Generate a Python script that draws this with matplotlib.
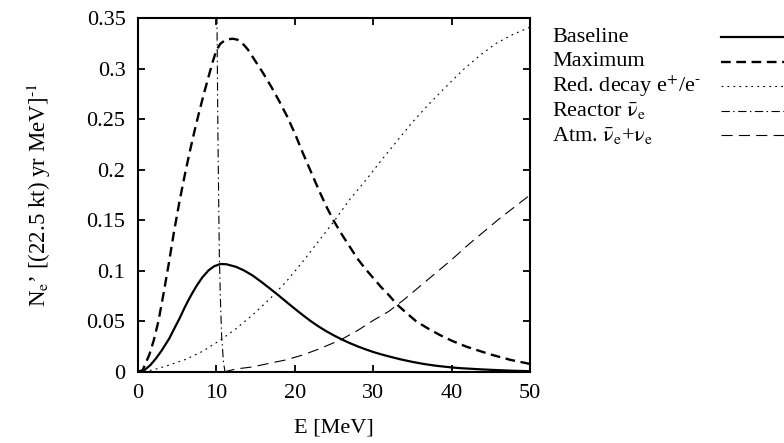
import matplotlib
matplotlib.use("Agg")
import matplotlib.pyplot as plt
from matplotlib.lines import Line2D

plt.rcParams['font.family'] = ['Liberation Serif', 'DejaVu Serif']
plt.rcParams['mathtext.fontset'] = 'stix'
plt.rcParams['lines.scale_dashes'] = False

# ---- data ----
E_baseline = [0, 0.4, 1.0, 1.6, 2.3, 3.0, 4.0, 4.6, 5.3, 6.0, 6.5, 7.0, 7.5, 8.2, 9.0,
              9.7, 10.5, 11.3, 12.5, 13.5, 14.6, 15.7, 16.8, 17.8, 18.9, 20.0, 21.0,
              22.0, 23.0, 24.0, 25.0, 26.0, 27.0, 28.0, 29.0, 30.0, 31.0, 32.0, 33.5,
              35.0, 36.4, 38.0, 40.0, 41.3, 44.0, 46.0, 48.0, 50.0]
baseline = [0, 0, 0.003, 0.007, 0.0135, 0.021, 0.0333, 0.0425, 0.053, 0.0645, 0.072,
            0.079, 0.0855, 0.0935, 0.1005, 0.1045, 0.1068, 0.1065, 0.104, 0.1005,
            0.0955, 0.0893, 0.0827, 0.0765, 0.0695, 0.0625, 0.0564, 0.0505, 0.0452,
            0.0404, 0.0361, 0.0322, 0.0286, 0.0254, 0.0225, 0.0198, 0.0175, 0.0154,
            0.0125, 0.0100, 0.0080, 0.0062, 0.0045, 0.0037, 0.0025, 0.0018, 0.0012,
            0.0008]

E_maximum = [0, 0.6, 1.44, 2.0, 2.6, 3.2, 3.9, 4.6, 5.3, 6.0, 6.55, 7.2, 7.8, 8.4, 9.0,
             9.5, 10.0, 10.5, 11.0, 11.5, 12.1, 12.7, 13.2, 14.0, 15.0, 16.0, 17.0,
             18.0, 19.0, 20.0, 21.0, 22.0, 23.0, 24.0, 25.0, 26.0, 27.0, 28.0, 29.0,
             30.0, 31.0, 32.0, 33.0, 34.0, 35.5, 37.0, 38.5, 40.0, 41.9, 44.9, 47.5,
             50.0]
maximum = [0, 0.002, 0.017, 0.031, 0.05, 0.075, 0.106, 0.139, 0.169, 0.196, 0.216,
           0.238, 0.257, 0.275, 0.292, 0.306, 0.318, 0.3245, 0.3275, 0.329, 0.3295,
           0.3285, 0.326, 0.319, 0.307, 0.295, 0.282, 0.268, 0.253, 0.236, 0.217,
           0.199, 0.181, 0.164, 0.149, 0.136, 0.124, 0.112, 0.102, 0.093, 0.084,
           0.076, 0.067, 0.060, 0.050, 0.043, 0.0366, 0.031, 0.025, 0.0175, 0.012,
           0.008]

E_reddecay = [0, 1.9, 4.0, 6.1, 8.25, 10.4, 12.5, 14.6, 16.75, 18.9, 21.0, 23.0, 25.0,
              27.0, 29.2, 31.0, 33.0, 35.0, 37.0, 39.4, 41.5, 43.6, 45.7, 47.9, 50.0]
reddecay = [0, 0.002, 0.0069, 0.0125, 0.0205, 0.031, 0.0428, 0.0563, 0.0718, 0.0893,
            0.109, 0.129, 0.149, 0.1705, 0.191, 0.209, 0.228, 0.247, 0.264, 0.283,
            0.299, 0.313, 0.325, 0.334, 0.341]

E_reactor = [10.0, 10.07, 10.2, 10.37, 10.5, 10.67, 10.9, 11.1]
reactor = [0.42, 0.35, 0.23, 0.117, 0.075, 0.035, 0.01, 0.0]

E_atm = [10.9, 12.5, 14.6, 16.75, 18.9, 21.0, 23.0, 25.8, 28.0, 30.0, 32.0, 34.0,
         36.0, 38.0, 40.0, 42.0, 44.0, 46.0, 48.0, 50.0]
atm = [0, 0.003, 0.005, 0.0086, 0.012, 0.0168, 0.0225, 0.0316, 0.041, 0.051, 0.060,
       0.072, 0.085, 0.098, 0.111, 0.125, 0.138, 0.151, 0.163, 0.175]

labels = ['Baseline', 'Maximum', r'Red. decay e$^{+}$/e$^{\text{-}}$',
          r'Reactor $\bar{\mathrm{\nu}}_{\mathrm{e}}$',
          r'Atm. $\bar{\mathrm{\nu}}_{\mathrm{e}}$+$\mathrm{\nu}_{\mathrm{e}}$']
x_ticks = [0, 10, 20, 30, 40, 50]
y_ticks = [0, 0.05, 0.1, 0.15, 0.2, 0.25, 0.3, 0.35]
y_ticklabels = ['0', '0.05', '0.1', '0.15', '0.2', '0.25', '0.3', '0.35']

# ---- figure ----
W, H = 784, 443
fig = plt.figure(figsize=(W / 100, H / 100), dpi=100)
ax = fig.add_axes([138 / W, (H - 372) / H, 392 / W, 354 / H])

styles = [
    dict(color='black', lw=1.6, linestyle='-'),
    dict(color='black', lw=1.7, linestyle=(0, (7, 4))),
    dict(color='black', lw=0.8, linestyle=(0, (1.3, 3.0))),
    dict(color='black', lw=0.8, linestyle=(0, (6, 2.5, 1, 2.5))),
    dict(color='black', lw=0.8, linestyle=(0, (8, 4.5))),
]
series = [(E_baseline, baseline), (E_maximum, maximum), (E_reddecay, reddecay),
          (E_reactor, reactor), (E_atm, atm)]
for (xs, ys), st in zip(series, styles):
    ax.plot(xs, ys, solid_joinstyle='round', dash_joinstyle='round', **st)

ax.set_xlim(0, 50)
ax.set_ylim(0, 0.35)
ax.set_xticks(x_ticks)
ax.set_xticklabels([str(t) for t in x_ticks])
ax.set_yticks(y_ticks)
ax.set_yticklabels(y_ticklabels)
ax.tick_params(direction='in', length=5, width=1.3, top=True, right=True,
               labelsize=16, pad=9)
for sp in ax.spines.values():
    sp.set_linewidth(1.5)

ax.set_xlabel('E [MeV]', fontsize=16, labelpad=11)
ax.set_ylabel(r"N$_{\mathrm{e}}$’ [(22.5 kt) yr MeV]$^{\text{-1}}$", fontsize=16.5,
              labelpad=24)

# legend (gnuplot style: text left, sample on right)
row0 = 37
dy = 24.5
for i, (lab, st) in enumerate(zip(labels, styles)):
    yy = (H - (row0 + i * dy)) / H
    fig.text(552 / W, yy, lab, fontsize=16, ha='left', va='center')
    fig.add_artist(Line2D([721 / W, 1.0], [yy, yy], transform=fig.transFigure, **st))

fig.savefig('out.png', dpi=100)
